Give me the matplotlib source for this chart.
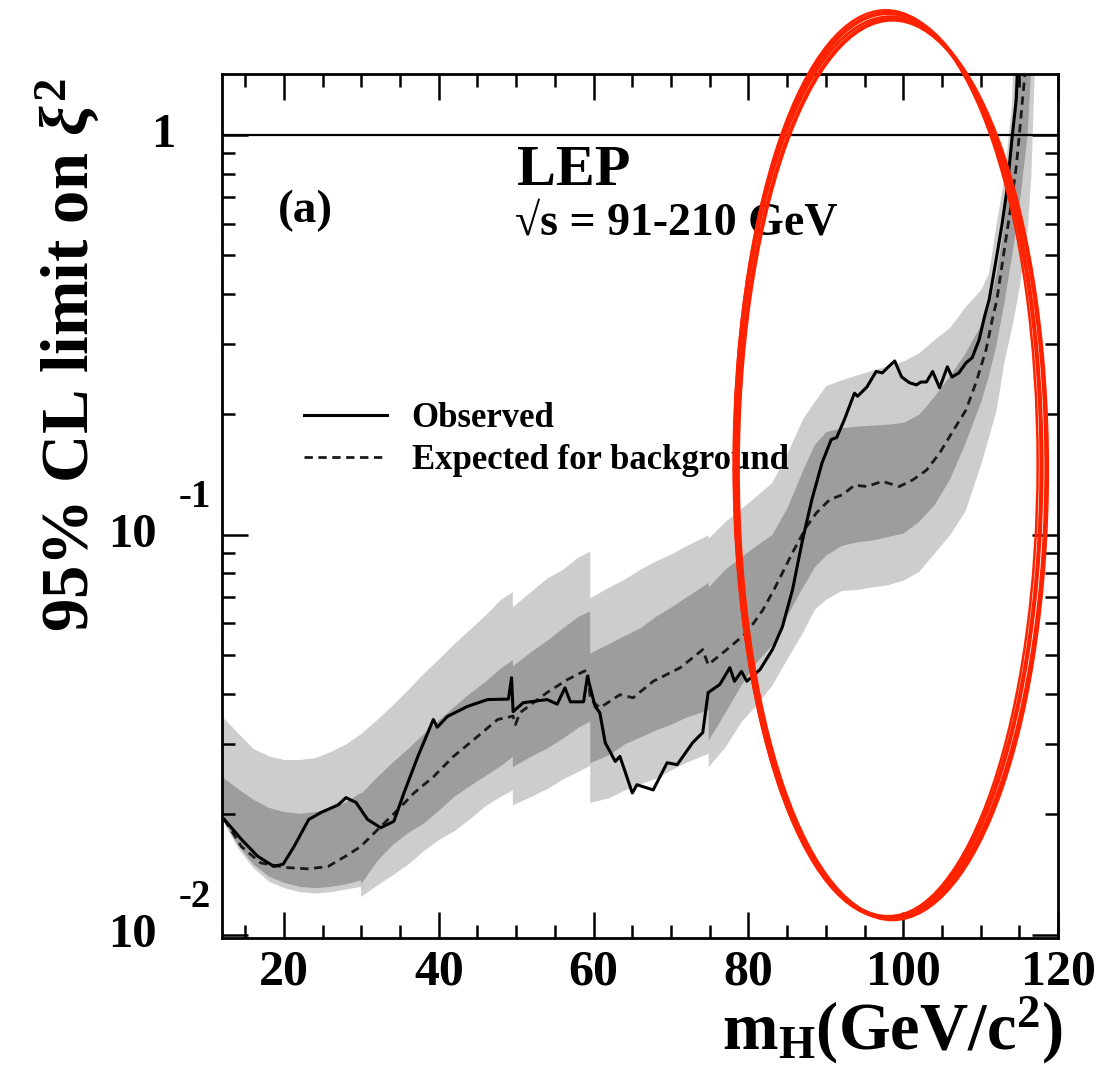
import numpy as np
import matplotlib.pyplot as plt
from matplotlib.patches import Ellipse
from matplotlib.ticker import MultipleLocator, LogLocator, NullFormatter

plt.rcParams['font.family'] = ['Liberation Serif', 'DejaVu Serif']
plt.rcParams['font.weight'] = 'bold'
plt.rcParams['mathtext.fontset'] = 'custom'
plt.rcParams['mathtext.rm'] = 'Liberation Serif:bold'
plt.rcParams['mathtext.it'] = 'Liberation Serif:italic:bold'
plt.rcParams['mathtext.bf'] = 'Liberation Serif:bold'

# observed 95% CL limit
obs_x = [12.3, 14.5, 16.6, 18.7, 19.9, 21.3, 23.2, 24.8, 27.0, 28.0, 29.3, 30.8, 32.5, 34.2,
         35.5, 37.3, 39.3, 39.8, 41.1, 43.7, 46.3, 49.0, 49.4, 49.6, 50.9, 54.0, 55.3, 56.3,
         57.0, 58.7, 59.2, 60.2, 60.8, 61.5, 62.8, 63.4, 65.0, 65.6, 67.7, 69.5, 70.8, 72.8,
         74.1, 74.8, 76.3, 77.6, 78.2, 79.1, 79.8, 81.5, 83.1, 84.4, 85.7, 87.0, 88.2, 89.5,
         90.7, 91.4, 92.4, 93.7, 94.1, 95.3, 96.5, 97.3, 98.0, 98.9, 99.8, 100.8, 101.7, 102.3,
         103.0, 103.8, 104.7, 105.7, 106.3, 107.2, 108.1, 108.9, 109.8, 110.5, 111.1, 112.0,
         112.8, 113.4, 114.1, 114.6, 114.8]
obs_y = [0.0194, 0.0173, 0.0157, 0.0148, 0.0150, 0.0166, 0.0194, 0.0202, 0.0211, 0.0220, 0.0214,
         0.0194, 0.0185, 0.0192, 0.0226, 0.0279, 0.0345, 0.0330, 0.0351, 0.0372, 0.0387, 0.0388,
         0.0439, 0.0361, 0.0380, 0.0387, 0.0377, 0.0414, 0.0382, 0.0382, 0.0442, 0.0372, 0.0359,
         0.0302, 0.0271, 0.0279, 0.0226, 0.0237, 0.0230, 0.0269, 0.0266, 0.0302, 0.0320, 0.0403,
         0.0422, 0.0465, 0.0430, 0.0455, 0.0430, 0.0460, 0.0516, 0.0589, 0.0729, 0.0972, 0.1224,
         0.151, 0.173, 0.175, 0.194, 0.226, 0.222, 0.234, 0.256, 0.254, 0.262, 0.272, 0.248,
         0.240, 0.237, 0.241, 0.241, 0.256, 0.233, 0.263, 0.248, 0.254, 0.269, 0.277, 0.307,
         0.351, 0.387, 0.487, 0.603, 0.729, 1.0, 1.223, 1.5]

# expected limit for background only
exp_x = [12.3, 14.5, 17.0, 20.5, 23.1, 25.7, 28.2, 29.9, 32.1, 34.7, 36.8, 39.3, 41.9, 44.5,
         47.6, 49.6, 49.9, 50.5, 54.0, 56.6, 58.7, 59.2, 59.6, 60.8, 63.4, 65.1, 67.7, 71.2,
         74.1, 74.8, 77.2, 79.8, 81.9, 83.4, 85.7, 87.5, 88.8, 90.5, 92.2, 93.7, 95.3, 97.3,
         99.5, 101.2, 103.0, 104.7, 106.3, 108.1, 109.4, 110.7, 111.5, 112.1, 113.0, 113.9,
         114.6, 115.0, 115.4, 115.7, 116.0]
exp_y = [0.0194, 0.0166, 0.0151, 0.0147, 0.0146, 0.0148, 0.0158, 0.0166, 0.0183, 0.0205, 0.0226,
         0.0248, 0.0279, 0.0307, 0.0345, 0.0352, 0.0335, 0.0359, 0.0403, 0.0434, 0.0455, 0.0458,
         0.0387, 0.0369, 0.0398, 0.0391, 0.0430, 0.0465, 0.0516, 0.0473, 0.0516, 0.0569, 0.0650,
         0.0735, 0.0902, 0.1047, 0.1135, 0.1224, 0.126, 0.133, 0.132, 0.136, 0.132, 0.137, 0.145,
         0.160, 0.180, 0.205, 0.240, 0.290, 0.345, 0.387, 0.507, 0.661, 0.832, 1.0, 1.22, 1.4, 1.7]

# 1 sigma / 2 sigma bands around the expectation
band_x = [12, 14, 16, 18, 20, 22, 24, 26, 28, 29.9, 29.9, 32, 34, 36, 38, 40, 42, 44, 46, 48,
          49.5, 49.5, 52, 54, 56, 58, 59.5, 59.5, 62, 64, 66, 68, 70, 72, 74.8, 74.8, 77, 79,
          81, 83, 85, 87, 88.5, 90, 92, 94, 96, 98, 100, 102, 104, 106, 108, 110, 111, 112,
          113, 114, 114.5, 115, 116, 116.5, 117]
band_hi2 = [0.0351, 0.0320, 0.0292, 0.0280, 0.0274, 0.0274, 0.0277, 0.0287, 0.0300, 0.0318,
            0.0318, 0.0345, 0.0375, 0.0410, 0.0450, 0.0490, 0.0535, 0.0580, 0.0630, 0.0690,
            0.0720, 0.0660, 0.0725, 0.0780, 0.0820, 0.0880, 0.0910, 0.0696, 0.0740, 0.0775,
            0.0820, 0.0860, 0.0895, 0.0940, 0.1000, 0.0980, 0.108, 0.116, 0.125, 0.135, 0.160,
            0.195, 0.215, 0.236, 0.244, 0.251, 0.258, 0.265, 0.272, 0.285, 0.308, 0.330, 0.372,
            0.410, 0.450, 0.600, 0.780, 1.20, 2.5, 5, 5, 5, 5]
band_hi1 = [0.0248, 0.0232, 0.0218, 0.0208, 0.0203, 0.0201, 0.0203, 0.0208, 0.0215, 0.0227,
            0.0225, 0.0248, 0.0270, 0.0292, 0.0318, 0.0345, 0.0373, 0.0402, 0.0430, 0.0465,
            0.0487, 0.0470, 0.0512, 0.0545, 0.0585, 0.0625, 0.0645, 0.0506, 0.0535, 0.0560,
            0.0585, 0.0625, 0.0660, 0.0700, 0.0760, 0.0740, 0.0820, 0.0880, 0.0940, 0.100,
            0.117, 0.145, 0.168, 0.181, 0.185, 0.187, 0.188, 0.189, 0.191, 0.200, 0.222, 0.250,
            0.285, 0.335, 0.370, 0.450, 0.600, 0.950, 1.5, 5, 5, 5, 5]
band_lo1 = [0.0195, 0.0168, 0.0150, 0.0140, 0.0135, 0.0132, 0.0131, 0.0132, 0.0134, 0.0137,
            0.0134, 0.0153, 0.0168, 0.0180, 0.0190, 0.0205, 0.0222, 0.0236, 0.0250, 0.0265,
            0.0279, 0.0263, 0.0280, 0.0293, 0.0310, 0.0330, 0.0342, 0.0269, 0.0282, 0.0300,
            0.0312, 0.0325, 0.0336, 0.0350, 0.0365, 0.0306, 0.0360, 0.0420, 0.0480, 0.0530,
            0.0630, 0.0740, 0.0830, 0.0890, 0.0940, 0.0960, 0.0970, 0.0990, 0.101, 0.108, 0.119,
            0.138, 0.170, 0.215, 0.250, 0.300, 0.380, 0.500, 0.580, 0.680, 1.00, 1.5, 5]
band_lo2 = [0.0194, 0.0165, 0.0147, 0.0136, 0.0131, 0.0128, 0.0127, 0.0128, 0.0130, 0.0132,
            0.01245, 0.0133, 0.0141, 0.0150, 0.0162, 0.0173, 0.0182, 0.0195, 0.0210, 0.0222,
            0.0230, 0.0211, 0.0222, 0.0232, 0.0245, 0.0256, 0.0265, 0.0214, 0.0220, 0.0230,
            0.0238, 0.0246, 0.0258, 0.0270, 0.0284, 0.0263, 0.0295, 0.0340, 0.0375, 0.0420,
            0.0490, 0.0570, 0.0650, 0.0690, 0.0725, 0.0730, 0.0740, 0.0750, 0.0770, 0.0810,
            0.0900, 0.100, 0.115, 0.150, 0.175, 0.205, 0.270, 0.330, 0.370, 0.420, 0.570, 0.800,
            1.60]

fig = plt.figure(figsize=(11.02, 10.90), dpi=100)
ax = fig.add_axes([0.2015, 0.1394, 0.7586, 0.7927])

ax.fill_between(band_x, band_lo2, band_hi2, color='#cdcdcd', lw=0)
ax.fill_between(band_x, band_lo1, band_hi1, color='#9d9d9d', lw=0)
l_exp, = ax.plot(exp_x, exp_y, color='#1a1a1a', lw=2.0, dashes=(3.0, 2.0))
l_obs, = ax.plot(obs_x, obs_y, color='black', lw=2.2)
ax.axhline(1, color='black', lw=1.6)

ax.set_yscale('log')
ax.set_xlim(12, 120)
ax.set_ylim(0.0098, 1.42)

ax.xaxis.set_major_locator(MultipleLocator(20))
ax.xaxis.set_minor_locator(MultipleLocator(5))
ax.yaxis.set_major_locator(LogLocator(base=10))
ax.yaxis.set_minor_locator(LogLocator(base=10, subs=np.arange(2, 10)))
ax.yaxis.set_minor_formatter(NullFormatter())
ax.tick_params(which='both', direction='in', top=True, right=True, width=1.8, colors='black')
ax.tick_params(which='major', length=19)
ax.tick_params(which='minor', length=9.5)
ax.tick_params(axis='x', labelsize=36, pad=8)
ax.tick_params(axis='y', labelleft=False)
for s in ax.spines.values():
    s.set_linewidth(2.0)

# y tick labels in the ROOT style: 10 with a raised exponent
ytf = ax.get_yaxis_transform()
ax.text(-0.0706, 1.0, '1', transform=ytf, fontsize=35, ha='center', va='center')
for val, ex in [(0.1, '-1'), (0.01, '-2')]:
    ax.annotate('10', xy=(-0.1077, val), xycoords=ytf, fontsize=35,
                ha='center', va='center', annotation_clip=False)
    ax.annotate(ex, xy=(-0.0323, val), xycoords=ytf, xytext=(0, 27),
                textcoords='offset points', fontsize=28, ha='center', va='center',
                annotation_clip=False)

ax.text(0.353, 0.8715, 'LEP', transform=ax.transAxes, fontsize=42, va='baseline')
ax.text(0.067, 0.8287, '(a)', transform=ax.transAxes, fontsize=34, va='baseline')
ax.text(0.3505, 0.8137, '\u221as = 91-210 GeV', transform=ax.transAxes, fontsize=33,
        va='baseline')

ax.legend([l_obs, l_exp], ['Observed', 'Expected for background'],
          loc='upper left', bbox_to_anchor=(304 / 1102, 1 - 402 / 1090),
          bbox_transform=fig.transFigure, frameon=False, fontsize=25,
          handlelength=2.4, handletextpad=0.7, labelspacing=0.25,
          borderpad=0, borderaxespad=0)

fig.text(68 / 1102, 1 - 355 / 1090, r'95% CL limit on $\xi^{2}$', rotation=90,
         fontsize=48, ha='center', va='center')
fig.text(1062 / 1102, 40 / 1090, r'm$_{\mathrm{H}}$(GeV/c$^{2}$)', fontsize=48,
         ha='right', va='baseline')

# hand-drawn red highlight ring (several strokes, heavier on the right)
for dx, dy, dw, dh, lw in [(0, 0, 0, 0, 3.0), (0.002, -0.002, 0.004, -0.003, 2.2),
                           (-0.002, 0.001, -0.003, 0.003, 1.8),
                           (0.004, -0.004, 0.002, -0.004, 3.0)]:
    fig.add_artist(Ellipse((888 / 1102 + dx, 1 - 465 / 1090 + dy), 307 / 1102 + dw,
                           904 / 1090 + dh, transform=fig.transFigure, fill=False,
                           ec='#ff2200', lw=lw))

fig.savefig('out.png', dpi=100)
